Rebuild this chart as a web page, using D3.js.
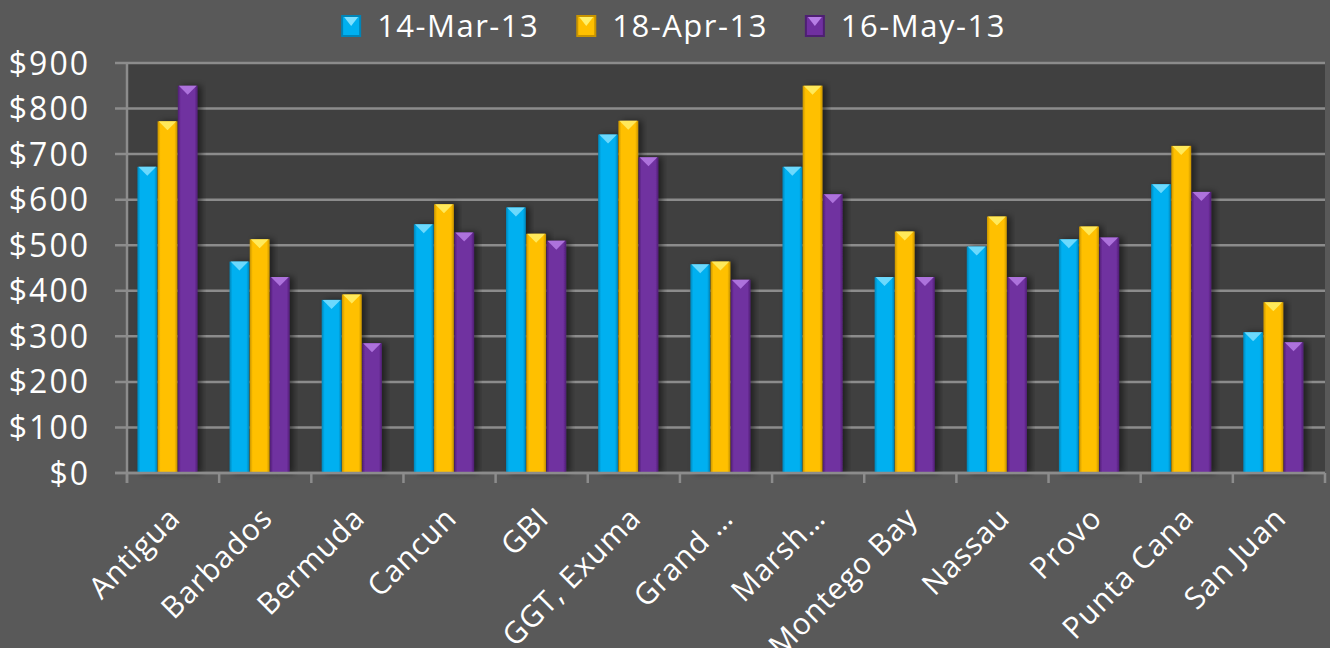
<!DOCTYPE html>
<html>
<head>
<meta charset="utf-8">
<script src="https://cdn.jsdelivr.net/npm/d3@7"></script>
<style>
  body { margin: 0; background: #595959; }
  svg { display: block; font-family: "Open Sans", sans-serif; }
</style>
</head>
<body>
<svg width="1330" height="648"></svg>
<script>
var categories = ["Antigua", "Barbados", "Bermuda", "Cancun", "GBI", "GGT, Exuma", "Grand \u2026",
  "Marsh\u2026", "Montego Bay", "Nassau", "Provo", "Punta Cana", "San Juan"];
var seriesNames = ["14-Mar-13", "18-Apr-13", "16-May-13"];
var mar13 = [672, 464, 380, 546, 583, 743, 458, 672, 430, 497, 513, 634, 309];
var apr13 = [772, 513, 392, 590, 525, 773, 464, 850, 530, 563, 541, 718, 375];
var may13 = [850, 430, 285, 528, 510, 693, 424, 612, 430, 430, 517, 617, 287];
var yTicks = [0, 100, 200, 300, 400, 500, 600, 700, 800, 900];

var seriesValues = [mar13, apr13, may13];
var base = ["#00b0f0", "#ffc000", "#7030a0"];
var dark = ["#0085b8", "#c89400", "#4e1f72"];
var light = ["#7fe0ff", "#fff06a", "#b77ee6"];

var svg = d3.select("svg"),
  width = +svg.attr("width"),
  height = +svg.attr("height");

var plot = {left: 127, right: 1325, top: 63, bottom: 473};

var defs = svg.append("defs");
seriesNames.forEach(function(s, i) {
  var g = defs.append("linearGradient").attr("id", "grad" + i)
    .attr("x1", "0").attr("x2", "1").attr("y1", "0").attr("y2", "0");
  g.append("stop").attr("offset", "0").attr("stop-color", dark[i]);
  g.append("stop").attr("offset", "0.15").attr("stop-color", base[i]);
  g.append("stop").attr("offset", "0.85").attr("stop-color", base[i]);
  g.append("stop").attr("offset", "1").attr("stop-color", dark[i]);
});
var shadow = defs.append("filter").attr("id", "shadow")
  .attr("x", "-20%").attr("y", "-5%").attr("width", "160%").attr("height", "110%");
shadow.append("feDropShadow").attr("dx", 4).attr("dy", 0).attr("stdDeviation", 3)
  .attr("flood-color", "#000").attr("flood-opacity", 0.5);

svg.append("rect").attr("width", width).attr("height", height).attr("fill", "#595959");
svg.append("rect")
  .attr("x", plot.left).attr("y", plot.top)
  .attr("width", plot.right - plot.left).attr("height", plot.bottom - plot.top)
  .attr("fill", "#404040");

var x0 = d3.scaleBand().domain(categories).range([plot.left, plot.right]).padding(0);
var x1 = d3.scaleBand().domain(d3.range(3)).range([10, 71]).padding(0.02);
var y = d3.scaleLinear().domain([0, 900]).range([plot.bottom, plot.top]);

// gridlines + y ticks
svg.append("g").selectAll("line").data(yTicks).enter().append("line")
  .attr("x1", plot.left - 12).attr("x2", plot.right)
  .attr("y1", function(d) { return y(d); }).attr("y2", function(d) { return y(d); })
  .attr("stroke", "#8c8c8c").attr("stroke-width", 2.5);

svg.append("g").selectAll("text").data(yTicks).enter().append("text")
  .attr("x", 90).attr("y", function(d) { return y(d); })
  .attr("dy", "0.36em")
  .attr("text-anchor", "end")
  .attr("fill", "#fff").attr("font-size", 32)
  .attr("letter-spacing", 2)
  .text(function(d) { return "$" + d; });

// axes lines
svg.append("line").attr("x1", plot.left).attr("x2", plot.left)
  .attr("y1", plot.top).attr("y2", plot.bottom + 10)
  .attr("stroke", "#8c8c8c").attr("stroke-width", 2.5);
var bounds = categories.map(function(c) { return x0(c); }).concat([plot.right]);
svg.append("g").selectAll("line").data(bounds).enter().append("line")
  .attr("x1", function(d) { return d; }).attr("x2", function(d) { return d; })
  .attr("y1", plot.bottom).attr("y2", plot.bottom + 10)
  .attr("stroke", "#8c8c8c").attr("stroke-width", 2.5);

// bars
var groups = svg.append("g").selectAll("g").data(categories).enter().append("g")
  .attr("transform", function(c) { return "translate(" + x0(c) + ",0)"; });

groups.each(function(c, ci) {
  var g = d3.select(this);
  seriesValues.forEach(function(vals, si) {
    var v = vals[ci];
    var bx = x1(si), bw = x1.bandwidth(), by = y(v);
    var bar = g.append("g").attr("filter", "url(#shadow)");
    bar.append("rect")
      .attr("x", bx).attr("y", by)
      .attr("width", bw).attr("height", y(0) - by)
      .attr("fill", "url(#grad" + si + ")");
    bar.append("polygon")
      .attr("points", [[bx + 1, by], [bx + bw - 1, by], [bx + bw / 2, by + 9]].join(" "))
      .attr("fill", light[si]).attr("opacity", 0.85);
  });
});

svg.append("line").attr("x1", plot.left - 12).attr("x2", plot.right)
  .attr("y1", plot.bottom).attr("y2", plot.bottom)
  .attr("stroke", "#8c8c8c").attr("stroke-width", 2.5);

// category labels
svg.append("g").selectAll("text").data(categories).enter().append("text")
  .attr("transform", function(c) {
    return "translate(" + (x0(c) + x0.bandwidth() / 2 + 9) + "," + 520 + ") rotate(-45)";
  })
  .attr("text-anchor", "end")
  .attr("fill", "#fff").attr("font-size", 30)
  .attr("letter-spacing", 1)
  .text(function(c) { return c; });

// legend
var legend = svg.append("g");
var items = legend.selectAll("g").data(seriesNames).enter().append("g");
items.append("rect").attr("x", 0).attr("y", 16).attr("width", 18).attr("height", 20)
  .attr("fill", function(d, i) { return base[i]; })
  .attr("stroke", function(d, i) { return dark[i]; }).attr("stroke-width", 2);
items.append("polygon")
  .attr("points", "2,17 16,17 9,26")
  .attr("fill", function(d, i) { return light[i]; });
items.append("text").attr("x", 35).attr("y", 26).attr("dy", "0.36em")
  .attr("fill", "#fff").attr("font-size", 31)
  .attr("letter-spacing", 1.5)
  .text(function(d) { return d; });
var xpos = 0, lefts = [];
items.each(function() {
  lefts.push(xpos);
  xpos += 35 + this.querySelector("text").getComputedTextLength() + 38;
});
var total = xpos - 38;
items.attr("transform", function(d, i) { return "translate(" + (674 - total / 2 + lefts[i]) + ",0)"; });
</script>
</body>
</html>
